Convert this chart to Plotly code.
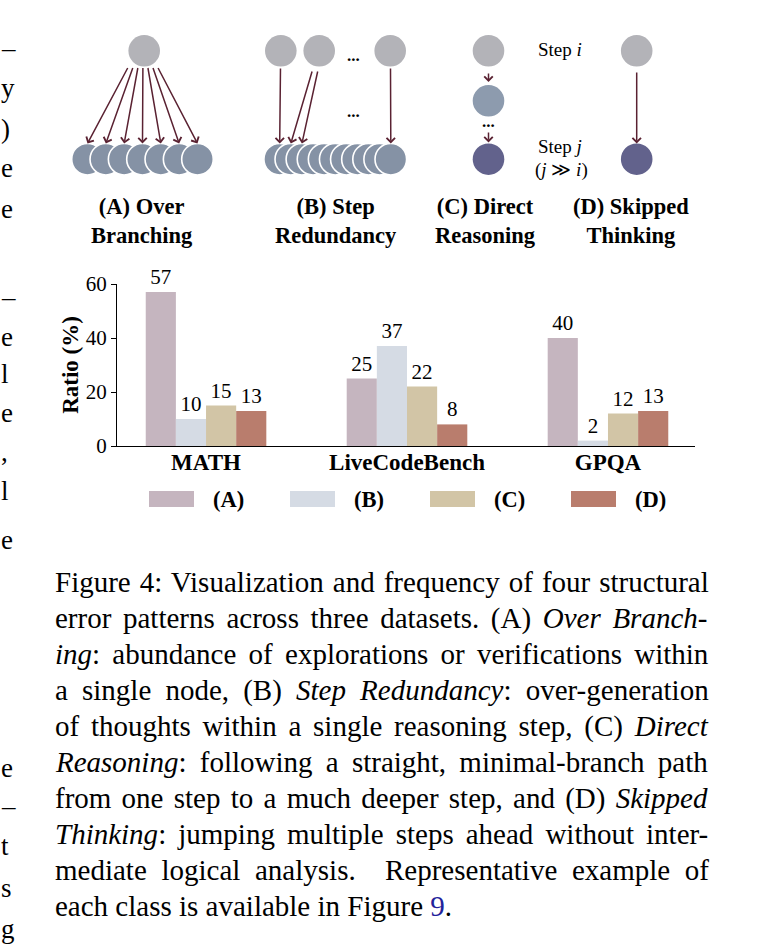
import plotly.graph_objects as go

W, H = 766, 952
SERIF = "Liberation Serif"

# ---------------- data ----------------
categories = ["MATH", "LiveCodeBench", "GPQA"]
series_names = ["(A)", "(B)", "(C)", "(D)"]
values_A = [57, 25, 40]
values_B = [10, 37, 2]
values_C = [15, 22, 12]
values_D = [13, 8, 13]
y_ticks = [0, 20, 40, 60]
bar_colors = ["#c5b5bf", "#d5dbe4", "#d2c5a6", "#b97d6d"]

panel_titles = ["<b>(A) Over<br>Branching</b>", "<b>(B) Step<br>Redundancy</b>",
                "<b>(C) Direct<br>Reasoning</b>", "<b>(D) Skipped<br>Thinking</b>"]

caption_lines = [
    "Figure 4: Visualization and frequency of four structural",
    "error patterns across three datasets. (A) <i>Over Branch-</i>",
    "<i>ing</i>: abundance of explorations or verifications within",
    "a single node, (B) <i>Step Redundancy</i>: over-generation",
    "of thoughts within a single reasoning step, (C) <i>Direct</i>",
    "<i>Reasoning</i>: following a straight, minimal-branch path",
    "from one step to a much deeper step, and (D) <i>Skipped</i>",
    "<i>Thinking</i>: jumping multiple steps ahead without inter-",
    "mediate logical analysis.  Representative example of",
    "each class is available in Figure <span style='color:#22229a'>9</span>.",
]
# extra word spacing (px) to justify the caption lines like the typeset original
caption_word_spacing = [1.8, 4.4, 5.0, 6.9, 4.5, 6.0, 3.0, 4.8, 7.4, 0]

# fragments of the neighbouring column cut at the left edge
edge_chars = [("–", 48), ("y", 88), (")", 129), ("e", 168), ("e", 209), ("–", 297),
              ("e", 337), ("l", 374), ("e", 413), (",", 452), ("l", 491), ("e", 540),
              ("e", 768), ("–", 806), ("t", 846), ("s", 888), ("g", 929)]

# ---------------- helpers (pixel -> paper) ----------------
def px(x):
    return x / W

def py(y):
    return 1 - y / H

TOP = "#b3b3b8"
MIDC = "#8d9bae"
BOT = "#8592a5"
DEEP = "#62628c"
ARROW = "#5a2232"
R = 15.8

fig = go.Figure()

all_vals = [values_A, values_B, values_C, values_D]
for name, vals, col in zip(series_names, all_vals, bar_colors):
    fig.add_trace(go.Bar(
        x=categories, y=vals, name=name, marker_color=col, marker_line_width=0,
        text=[str(v) for v in vals], textposition="outside", constraintext="none",
        textfont=dict(family=SERIF, size=21, color="black"),
        cliponaxis=False, showlegend=False))

shapes = []
annotations = []

def circle(cx, cy, color, edge=True):
    shapes.append(dict(type="circle", xref="paper", yref="paper",
                       x0=px(cx - R), x1=px(cx + R), y0=py(cy + R), y1=py(cy - R),
                       fillcolor=color,
                       line=dict(color="white", width=1.6 if edge else 0)))

def arrow(x0, y0, x1, y1):
    annotations.append(dict(x=px(x1), y=py(y1), xref="paper", yref="paper",
                            ax=x0 - x1, ay=y0 - y1, text="", showarrow=True,
                            arrowhead=4, arrowsize=1.1, arrowwidth=1.5,
                            arrowcolor=ARROW, standoff=0, startstandoff=0))

def text(x, y, s, size=19, anchor="center", color="black"):
    annotations.append(dict(x=px(x), y=py(y), xref="paper", yref="paper", text=s,
                            showarrow=False, xanchor=anchor, yanchor="middle",
                            font=dict(family=SERIF, size=size, color=color)))

# ---- (A) Over Branching ----
circle(144.2, 50.8, TOP, edge=False)
a_centers = [87.5 + i * 18.33 for i in range(7)]
for cx in a_centers:
    circle(cx, 159.2, BOT)
for i, cx in enumerate(a_centers):
    arrow(128.5 + i * 4.8, 66.5, cx, 143.5)

# ---- (B) Step Redundancy ----
for cx in [280.8, 319.2, 390.2]:
    circle(cx, 50.8, TOP, edge=False)
b_centers = [279.7 + i * 11.11 for i in range(11)]
for cx in b_centers:
    circle(cx, 159.2, BOT)
arrow(280.5, 67, b_centers[0], 143.5)
arrow(312.5, 70, b_centers[1], 143.5)
arrow(318.0, 70, b_centers[2], 143.5)
arrow(390.5, 67, b_centers[-1], 143.5)
text(353, 55, "<b>...</b>", size=17)
text(353, 111, "<b>...</b>", size=17)

# ---- (C) Direct Reasoning ----
circle(488.5, 50.8, TOP, edge=False)
circle(488.5, 100.8, MIDC, edge=False)
circle(488.5, 159.2, DEEP, edge=False)
arrow(488.5, 72, 488.5, 82)
arrow(488.5, 131, 488.5, 142.5)
text(488.5, 122, "<b>...</b>", size=17)
text(560, 49, "Step <i>i</i>", size=19)
text(560, 146, "Step <i>j</i>", size=19)
text(561, 170, "(<i>j</i> ≫ <i>i</i>)", size=19)

# ---- (D) Skipped Thinking ----
circle(636.7, 50.8, TOP, edge=False)
circle(636.7, 159.2, DEEP, edge=False)
arrow(636.7, 71, 636.7, 143.5)

# panel titles
for xc, t in zip([142, 336, 486, 631], panel_titles):
    annotations.append(dict(x=px(xc), y=py(221), xref="paper", yref="paper", text=t,
                            showarrow=False, xanchor="center", yanchor="middle",
                            font=dict(family=SERIF, size=22.5, color="black")))

# ---- manual legend ----
leg_x = [149, 290, 430, 571]
for xs, name, col in zip(leg_x, series_names, bar_colors):
    shapes.append(dict(type="rect", xref="paper", yref="paper",
                       x0=px(xs), x1=px(xs + 45), y0=py(507), y1=py(491),
                       fillcolor=col, line=dict(width=0)))
    text(xs + 62, 499, "<b>" + name + "</b>", size=22.5, anchor="left")

# ---- caption ----
for k, (line, ws) in enumerate(zip(caption_lines, caption_word_spacing)):
    s = "<span style='word-spacing:%.1fpx'>%s</span>" % (ws, line) if ws else line
    text(53, 582 + 36 * k, s, size=29, anchor="left")

# ---- edge fragments ----
for ch, yy in edge_chars:
    text(-1, yy, ch, size=27, anchor="left")

fig.update_layout(
    width=W, height=H, margin=dict(l=0, r=0, t=0, b=0, autoexpand=False),
    paper_bgcolor="white", plot_bgcolor="white",
    barmode="group", bargap=0.40, bargroupgap=0,
    font=dict(family=SERIF, color="black"),
    shapes=shapes, annotations=annotations,
    xaxis=dict(domain=[px(117), px(695)], range=[-0.443, 2.433], showline=True,
               linecolor="black", linewidth=1, ticks="", showgrid=False,
               ticklabelstandoff=-5,
               tickfont=dict(family=SERIF, size=23, color="black", weight="bold")),
    yaxis=dict(domain=[py(446), py(284)], range=[0, 60], tickvals=y_ticks,
               showline=True, linecolor="black", linewidth=1, ticks="outside",
               ticklen=5, tickcolor="black", showgrid=False, zeroline=False,
               tickfont=dict(family=SERIF, size=21, color="black"),
               title=dict(text="Ratio (%)", standoff=0,
                          font=dict(family=SERIF, size=23, color="black", weight="bold"))),
)

fig.write_html("out.html", config={"displayModeBar": False},
               post_script="document.body.style.margin='0px';")
